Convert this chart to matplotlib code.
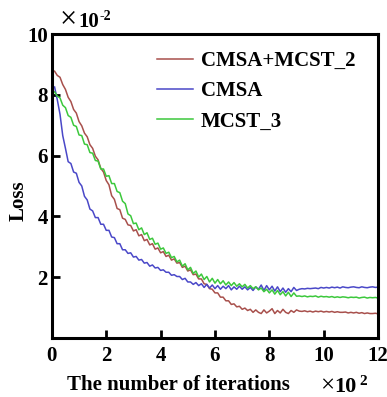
import numpy as np
import matplotlib
matplotlib.use("Agg")
import matplotlib.pyplot as plt

plt.rcParams["font.family"] = ["Liberation Serif", "DejaVu Serif"]
plt.rcParams["font.weight"] = "bold"

# iterations, in hundreds (x10^2)
iterations = np.arange(10, 1210, 10) / 100

# loss values, in units of 10^-2
loss_cmsa_mcst2 = [
    8.78, 8.64, 8.58, 8.34, 8.18, 7.92, 7.78, 7.52, 7.40, 7.12,
    6.98, 6.74, 6.62, 6.36, 6.24, 5.98, 5.86, 5.58, 5.46, 5.18,
    5.04, 4.68, 4.56, 4.26, 4.22, 3.94, 3.90, 3.72, 3.70, 3.52,
    3.56, 3.36, 3.40, 3.20, 3.24, 3.06, 3.10, 2.92, 2.96, 2.80,
    2.84, 2.68, 2.72, 2.56, 2.60, 2.46, 2.48, 2.32, 2.36, 2.20,
    2.24, 2.08, 2.10, 1.94, 1.94, 1.78, 1.76, 1.62, 1.60, 1.48,
    1.48, 1.34, 1.34, 1.22, 1.22, 1.10, 1.12, 1.02, 1.04, 0.94,
    0.98, 0.90, 0.94, 0.84, 0.92, 0.84, 0.80, 0.92, 0.82, 0.88,
    0.96, 0.80, 0.90, 0.82, 0.94, 0.84, 0.80, 0.90, 0.84, 0.92,
    0.88, 0.87, 0.89, 0.86, 0.88, 0.85, 0.88, 0.86, 0.88, 0.85,
    0.87, 0.85, 0.87, 0.84, 0.86, 0.84, 0.84, 0.85, 0.82, 0.84,
    0.82, 0.84, 0.81, 0.83, 0.80, 0.82, 0.80, 0.80, 0.81, 0.79,
]
loss_cmsa = [
    8.26, 7.84, 7.36, 6.66, 6.24, 5.80, 5.74, 5.46, 5.42, 5.12,
    5.00, 4.66, 4.54, 4.24, 4.18, 3.96, 3.96, 3.74, 3.74, 3.54,
    3.54, 3.32, 3.30, 3.10, 3.10, 2.90, 2.90, 2.78, 2.80, 2.66,
    2.68, 2.56, 2.58, 2.46, 2.48, 2.36, 2.40, 2.30, 2.32, 2.22,
    2.24, 2.16, 2.16, 2.06, 2.08, 2.02, 2.02, 1.92, 1.96, 1.84,
    1.84, 1.76, 1.82, 1.72, 1.78, 1.66, 1.76, 1.64, 1.74, 1.62,
    1.72, 1.60, 1.70, 1.62, 1.72, 1.58, 1.68, 1.60, 1.70, 1.60,
    1.68, 1.58, 1.66, 1.56, 1.68, 1.60, 1.74, 1.56, 1.72, 1.58,
    1.70, 1.54, 1.68, 1.52, 1.64, 1.50, 1.62, 1.52, 1.66, 1.56,
    1.60, 1.62, 1.61, 1.63, 1.62, 1.63, 1.64, 1.62, 1.66, 1.64,
    1.66, 1.64, 1.67, 1.65, 1.67, 1.64, 1.68, 1.66, 1.65, 1.67,
    1.68, 1.66, 1.65, 1.68, 1.66, 1.65, 1.67, 1.68, 1.66, 1.67,
]
loss_mcst3 = [
    8.10, 7.96, 7.90, 7.66, 7.58, 7.32, 7.26, 7.00, 6.96, 6.68,
    6.66, 6.38, 6.36, 6.10, 6.08, 5.84, 5.82, 5.56, 5.56, 5.32,
    5.34, 5.08, 5.08, 4.82, 4.78, 4.50, 4.42, 4.08, 4.02, 3.76,
    3.78, 3.56, 3.62, 3.40, 3.46, 3.24, 3.28, 3.08, 3.12, 2.92,
    2.96, 2.78, 2.82, 2.64, 2.68, 2.50, 2.56, 2.36, 2.44, 2.24,
    2.32, 2.12, 2.20, 2.00, 2.10, 1.92, 2.02, 1.84, 1.96, 1.80,
    1.92, 1.78, 1.88, 1.74, 1.84, 1.72, 1.82, 1.70, 1.78, 1.68,
    1.76, 1.64, 1.72, 1.62, 1.68, 1.58, 1.64, 1.52, 1.60, 1.48,
    1.58, 1.44, 1.56, 1.42, 1.52, 1.38, 1.50, 1.36, 1.48, 1.37,
    1.38, 1.36, 1.38, 1.35, 1.37, 1.36, 1.38, 1.34, 1.37, 1.35,
    1.36, 1.34, 1.36, 1.33, 1.35, 1.33, 1.35, 1.34, 1.32, 1.34,
    1.33, 1.34, 1.31, 1.33, 1.34, 1.31, 1.33, 1.32, 1.33, 1.31,
]

fig = plt.figure(figsize=(3.87, 3.97), dpi=100)
ax = fig.add_axes([0.134, 0.149, 0.843, 0.765])

ax.plot(iterations, loss_cmsa_mcst2, color="#a8504c", lw=1.1, label="CMSA+MCST_2")
ax.plot(iterations, loss_cmsa, color="#4a48c8", lw=1.1, label="CMSA")
ax.plot(iterations, loss_mcst3, color="#3cc83c", lw=1.1, label="MCST_3")

ax.set_xlim(0, 12)
ax.set_ylim(0, 10)
ax.set_xticks([0, 2, 4, 6, 8, 10, 12])
ax.set_yticks([2, 4, 6, 8, 10])
ax.tick_params(direction="in", length=6, width=2, labelsize=15)
ax.tick_params(axis="x", pad=6)
ax.tick_params(axis="y", pad=3)
for s in ax.spines.values():
    s.set_linewidth(2.2)

ax.legend(loc="upper left", bbox_to_anchor=(0.322, 0.945), frameon=False,
          fontsize=15, handlelength=1.75, handletextpad=0.35,
          labelspacing=0.5, borderpad=0, borderaxespad=0)

fig.text(0.047, 0.494, "Loss", rotation=90, ha="center", va="center", fontsize=15)
fig.text(178 / 387, 1 - 390 / 397, "The number of iterations", ha="center",
         va="baseline", fontsize=15)

# multipliers, bottom right and top left
fig.text(320 / 387, 1 - 392 / 397, "×", ha="left", va="baseline",
         fontsize=18, fontweight="normal")
fig.text(334 / 387, 1 - 392 / 397, "10", ha="left", va="baseline", fontsize=16)
fig.text(359 / 387, 1 - 385 / 397, "2", ha="left", va="baseline", fontsize=11)
fig.text(60 / 387, 1 - 27 / 397, "×", ha="left", va="baseline",
         fontsize=22, fontweight="normal")
fig.text(78 / 387, 1 - 27 / 397, "10", ha="left", va="baseline", fontsize=15)
fig.text(99 / 387, 1 - 20 / 397, "-2", ha="left", va="baseline", fontsize=10)

fig.savefig("out.png", dpi=100)
